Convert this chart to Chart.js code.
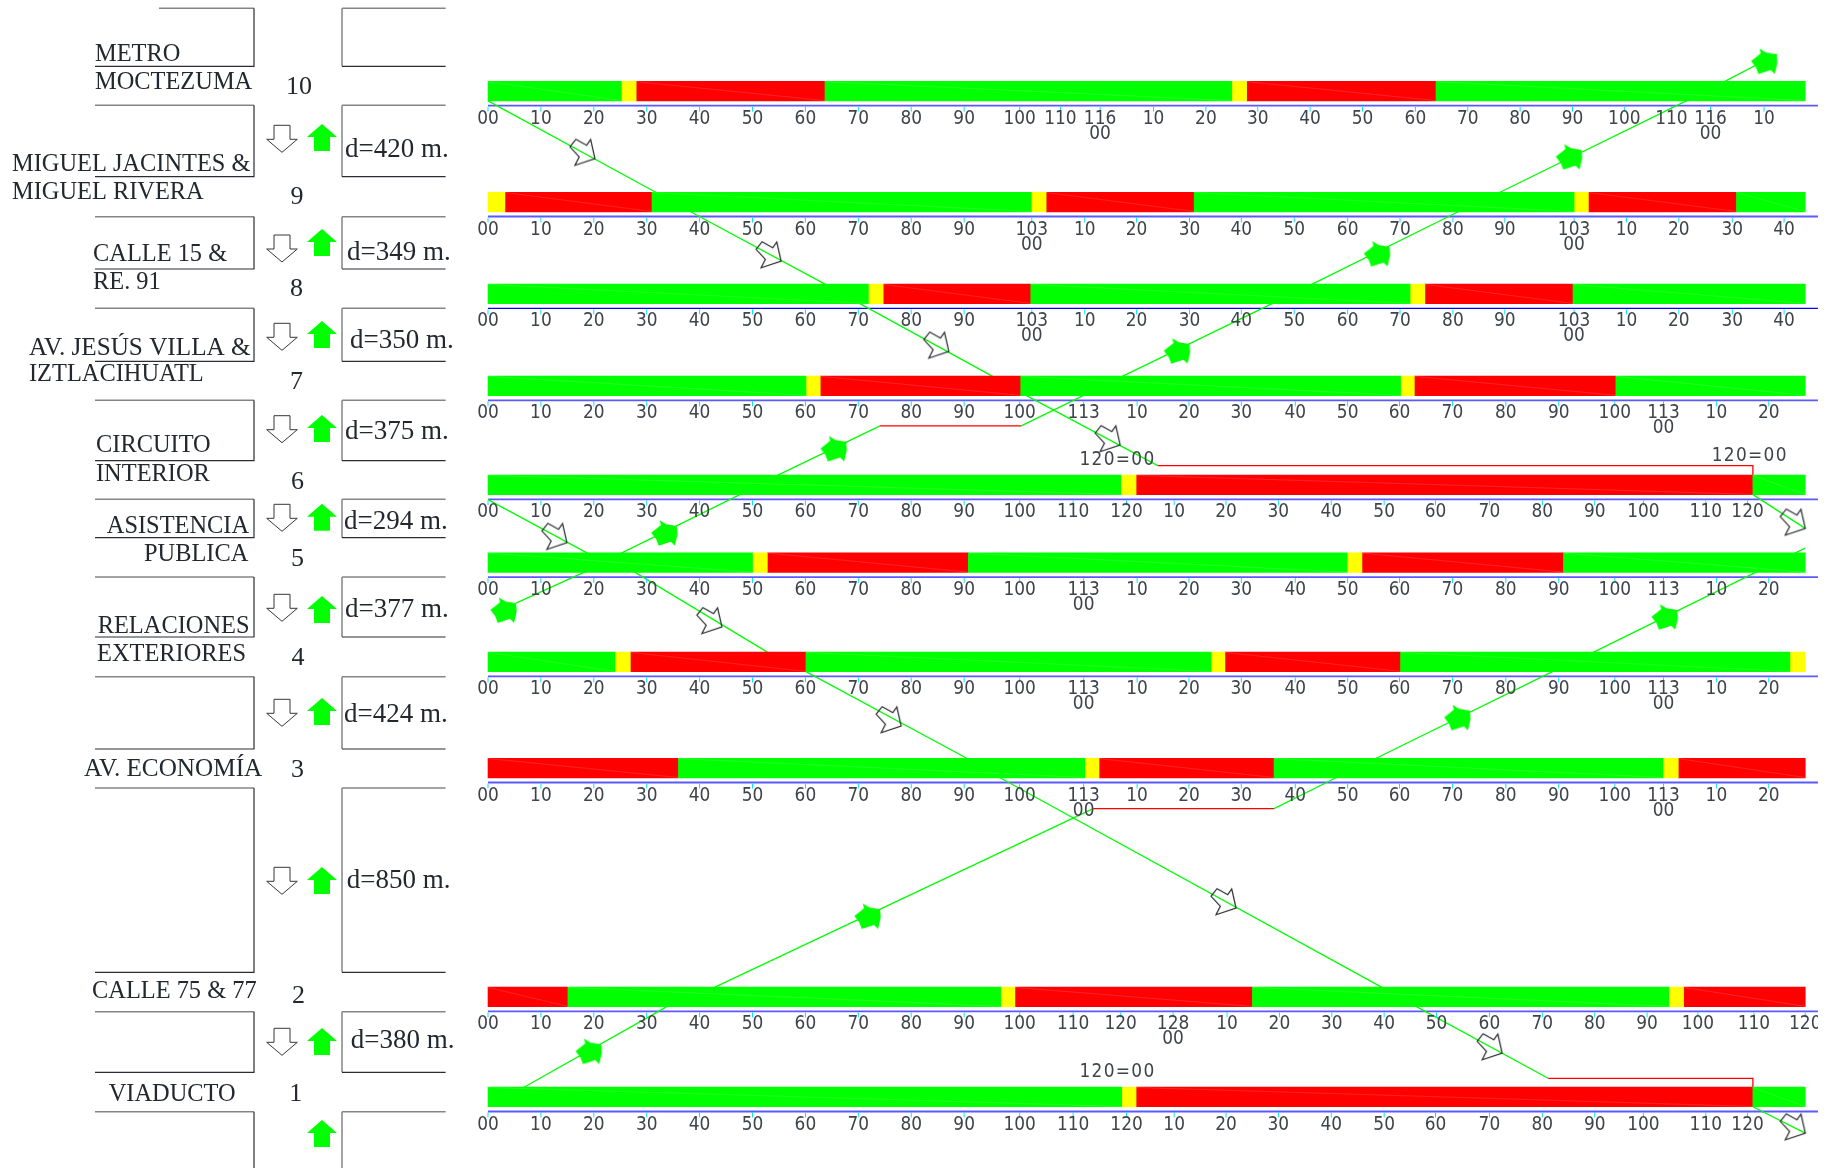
<!DOCTYPE html>
<html><head><meta charset="utf-8">
<style>html,body{margin:0;padding:0;background:#fff}canvas{display:block}</style>
<script src="https://cdn.jsdelivr.net/npm/chart.js@4"></script>
</head><body><canvas id="c" width="1837" height="1168"></canvas>
<script>
// ---------- data: seconds along x, metres along the corridor on y ----------
const stationNumbers=[1,2,3,4,5,6,7,8,9,10];
const stationPositions=[0,380,1249,1652,2029,2324,2700,3049,3398,3819];
const segmentDistances=['d=380 m.','d=850 m.','d=424 m.','d=377 m.','d=294 m.','d=375 m.','d=350 m.','d=349 m.','d=420 m.'];

// signal phases: colour sequence and the second at which each phase ends
const phases1=['G','Y','R','G'],            ends1=[119.8,122.5,239.1,249];
const phases2=['R','G','Y','R','G','Y','R'],ends2=[15.1,96.9,99.6,144.5,223.2,226,249];
const phases3=['R','G','Y','R','G','Y','R'],ends3=[36,112.8,115.5,148.6,222.1,225,249];
const phases4=['G','Y','R','G','Y','R','G','Y'],ends4=[24,26.9,60.1,136.7,139.3,172.5,246.1,249];
const phases5=['G','Y','R','G','Y','R','G'],ends5=[50,52.8,90.8,162.4,165.2,203.3,249];
const phases6=['G','Y','R','G'],            ends6=[119.6,122.5,239.1,249];
const phases7=['G','Y','R','G','Y','R','G'],ends7=[60.1,62.8,100.7,172.5,175.1,213.2,249];
const phases8=['G','Y','R','G','Y','R','G'],ends8=[71.9,74.7,102.6,174.3,177.1,205.1,249];
const phases9=['Y','R','G','Y','R','G','Y','R','G'],ends9=[3.2,31,102.7,105.5,133.5,205.3,208,236,249];
const phases10=['G','Y','R','G','Y','R','G'],ends10=[25.2,28,63.7,140.6,143.4,179.2,249];

// time scale tick labels
const tens=[0,10,20,30,40,50,60,70,80,90];
const tickTimes10=[...tens,100.5,108.2,115.7,125.8,135.7,145.5,155.4,165.3,175.3,185.2,195.1,205,214.8,223.7,231.1,241.2];
const tickTimes103=[...tens,102.8,112.8,122.6,132.6,142.4,152.4,162.5,172.4,182.4,192.2,205.3,215.2,225.1,235.2,245];
const tickTimes113=[...tens,100.5,112.6,122.7,132.5,142.4,152.6,162.5,172.3,182.3,192.4,202.4,213,222.2,232.2,242.1];
const tickTimes120=[...tens,100.5,110.6,120.7,129.7,139.5,149.4,159.4,169.4,179.1,189.3,199.3,209.2,218.4,230.2,238.1];
const tickTimes2=[...tens,100.5,110.6,119.6,129.5,139.7,149.6,159.5,169.4,179.3,189.3,199.3,209.2,219.1,228.7,239.3,249];
const tensText=['00','10','20','30','40','50','60','70','80','90'];
const upTo90=['10','20','30','40','50','60','70','80','90'];
const tickText10=[...tensText,'100','110','116\n00',...upTo90,'100','110','116\n00','10'];
const tickText9=[...tensText,'103\n00',...upTo90,'103\n00','10','20','30','40'];
const tickText8=tickText9;
const tickText7=[...tensText,'100','113',...upTo90,'100','113\n00','10','20'];
const tickText6=[...tensText,'100','110','120',...upTo90,'100','110','120'];
const tickText5=[...tensText,'100','113\n00',...upTo90,'100','113','10','20'];
const tickText4=[...tensText,'100','113\n00',...upTo90,'100','113\n00','10','20'];
const tickText3=tickText4;
const tickText2=[...tensText,'100','110','120','128\n00',...upTo90,'100','110','120'];
const tickText1=tickText6;
const cycleNotes=[['120=00',119,2427],['120=00',238.5,2440],['120=00',119,103]];

// progression lines [second, metre]
const downA=[[0,3782],[31.7,3435],[38.3,3361],[63.7,3086],[70.3,3012],[95.3,2737],[101.8,2663],[126.6,2397]];
const downB=[[239.1,2287],[249,2159]];
const downC=[[0,2268],[18.7,2066],[27.8,1992],[52.8,1689],[60.1,1615],[90.5,1286],[96.8,1212],[168.9,417],[175.5,343],[200.4,71]];
const downD=[[239.1,-37],[249,-137]];
const upA=[[6.8,37],[33.8,343],[42.9,417],[114.4,1095]];
const upB=[[148.6,1095],[160.3,1212],[167.9,1286],[201.2,1615],[209,1689],[239.6,1992],[249,2084]];
const upC=[[5.3,1875],[18.1,1992],[25.3,2066],[47.6,2287],[54.8,2361],[74.1,2548]];
const upD=[[100.8,2548],[112.5,2663],[120,2737],[148.2,3012],[155.8,3086],[183.4,3361],[191.3,3435],[226.5,3782],[233.8,3856],[243.6,3959]];
const redA=[[126.6,2397],[239.1,2397],[239.1,2361]];
const redB=[[200.4,71],[239.1,71],[239.1,37]];
const redC=[[114.4,1095],[148.6,1095]];
const redD=[[74.1,2548],[100.8,2548]];
const downMarkers=[[20.2,3563],[55.4,3174],[87.1,2831],[119.5,2476],[249,2159],[14.9,2105],[44.2,1785],[78.1,1409],[141.4,718],[191.7,167],[249,-137]];
const upMarkers=[[21.4,200],[74.1,713],[185.6,1467],[224.8,1849],[5.3,1875],[35.7,2168],[67.7,2488],[132.6,2859],[170.4,3228],[206.7,3596],[243.6,3959]];

// ---------- side panel text ----------
const streetLabels=[
 ['METRO',95,60.6],['MOCTEZUMA',95,88.6],['MIGUEL JACINTES &',12,170.6],['MIGUEL RIVERA',12,198.6],
 ['CALLE 15 &',93,261.3],['RE. 91',93,289.3],['IZTLACIHUATL',29,381.3],
 ['CIRCUITO',96,452.3],['INTERIOR',96,480.6],['ASISTENCIA',106.8,532.6],['PUBLICA',144,560.6],
 ['RELACIONES',97.7,632.6],['EXTERIORES',97,660.6],['CALLE 75 & 77',92,997.9],['VIADUCTO',108.7,1100.6]];
const wideLabels=[['AV. ECONOMÍA',84,775.6],['AV. JESÚS VILLA &',29,354.6]];
const numberSpots=[[295.8,1101],[298.5,1002.7],[297.4,776.7],[298,664.7],[297.4,565.7],[297.4,488.7],[296.5,388.7],[296.5,296],[297,204],[299,94]];
const distanceSpots=[[350.7,1048],[346.8,887.7],[344,721.7],[345,616.7],[344,528.7],[345,439.3],[350,348],[347,260],[345,156.7]];
const blocks=[[8.3,66.3],[105.3,176.7],[216.7,269],[308.3,361.3],[400.3,460.7],[499.3,537.7],[577,637],[676.7,749],[788,972.3],[1011.7,1072.3],[1111.7,1168]];
const downArrowTops=[125.3,235,323.3,415.7,504.3,594.3,699.3,867.3,1028.3];
const upArrowTops=[124,229,321,415,503.7,596,698,867,1028,1120];

// ---------- builders ----------
const C={G:'#00ff00',Y:'#ffff00',R:'#ff0000'};
const allPhases=[phases1,phases2,phases3,phases4,phases5,phases6,phases7,phases8,phases9,phases10];
const allEnds=[ends1,ends2,ends3,ends4,ends5,ends6,ends7,ends8,ends9,ends10];
const allTimes=[tickTimes120,tickTimes2,tickTimes113,tickTimes113,tickTimes113,tickTimes120,tickTimes113,tickTimes103,tickTimes103,tickTimes10];
const allTexts=[tickText1,tickText2,tickText3,tickText4,tickText5,tickText6,tickText7,tickText8,tickText9,tickText10];
const barData={G:[],Y:[],R:[]};
allPhases.forEach((ph,r)=>{let s=0;ph.forEach((k,i)=>{barData[k].push({x:[s,allEnds[r][i]],y:stationPositions[r]});s=allEnds[r][i];});});
const pts=a=>a.map(p=>({x:p[0],y:p[1]}));
const lineSet=(a,col,w)=>({type:'line',data:pts(a),borderColor:col,borderWidth:w||1.3,pointRadius:0,tension:0,fill:false,order:3,borderCapStyle:'butt'});
const barSet=k=>({type:'bar',indexAxis:'y',data:barData[k],backgroundColor:C[k],borderWidth:0,barThickness:19.6,grouped:false,order:2});

function marker(poly,fill,stroke){
  const c=document.createElement('canvas');c.width=c.height=64;
  const g=c.getContext('2d');g.translate(32,32);g.beginPath();
  poly.forEach((p,i)=>i?g.lineTo(p[0],p[1]):g.moveTo(p[0],p[1]));g.closePath();
  if(fill){g.fillStyle=fill;g.fill();}
  if(stroke){g.strokeStyle=stroke;g.lineWidth=1.2;g.stroke();}
  return c;
}
const upShape=[[0,0],[.7,8.3],[-2,19.7],[-6,15.7],[-18.3,19.7],[-20.7,13.3],[-25.7,6.7],[-19.3,1.7],[-16,-1],[-17.3,-5.7],[-10.7,-1.7]];
const downShape=[[0,0],[-4.3,-19],[-8.3,-13.3],[-19,-19.3],[-25,-11.7],[-15.7,-1.7],[-20,6.7]];
const markerSet=(a,img)=>({type:'scatter',data:pts(a),pointStyle:img,pointRadius:10,showLine:false,order:1,clip:false});

const blueOffset=55;
const blueLines=stationPositions.map((m,i)=>lineSet([[0,m-blueOffset],[251.4,m-blueOffset]],i===7?'#0000ff':'#5a5aff',i===7?1.4:1.8));

function tallText(g,s,x,y){g.save();g.translate(x,y);g.scale(1,1.14);g.fillText(s,0,0);g.restore();}

const overlay={id:'overlay',afterDraw(ch){
  const g=ch.ctx,X=ch.scales.x,Y=ch.scales.y;
  g.save();
  // faint diagonal streaks across each phase block
  allPhases.forEach((ph,r)=>{let s=0;const yc=Y.getPixelForValue(stationPositions[r]);
    ph.forEach((k,i)=>{const e=allEnds[r][i];g.strokeStyle='rgba(255,255,255,.2)';g.lineWidth=.7;g.beginPath();
      g.moveTo(X.getPixelForValue(s),yc-9.5);g.lineTo(X.getPixelForValue(e),yc+9.5);g.stroke();s=e;});});
  // time scales
  g.save();g.beginPath();g.rect(0,0,1818,1168);g.clip();
  g.textAlign='center';g.textBaseline='middle';g.font='17px "DejaVu Sans"';
  allTimes.forEach((ts,r)=>{const yb=Y.getPixelForValue(stationPositions[r]-blueOffset);
    ts.forEach((t,i)=>{const px=X.getPixelForValue(t);
      g.strokeStyle='#00e5ff';g.lineWidth=1;g.beginPath();g.moveTo(px,yb+1);g.lineTo(px,yb+6);g.stroke();
      g.fillStyle='#3f444a';
      allTexts[r][i].split('\n').forEach((s,j)=>tallText(g,s,px,yb+13+j*15));});});
  g.restore();
  g.textAlign='center';g.font='17px "DejaVu Sans"';g.fillStyle='#3f444a';g.textBaseline='middle';
  g.letterSpacing='1.3px';
  cycleNotes.forEach(n=>tallText(g,n[0],X.getPixelForValue(n[1]),Y.getPixelForValue(n[2])+2));
  g.letterSpacing='0px';
  // side blocks
  blocks.forEach((b,i)=>{const [t,bot]=b,lx=i===0?159:95;
    g.strokeStyle='#858585';g.lineWidth=1.5;
    g.beginPath();g.moveTo(lx,t);g.lineTo(254,t);g.stroke();
    g.beginPath();g.moveTo(342,t);g.lineTo(445.6,t);g.moveTo(342,t);g.lineTo(342,bot);g.stroke();
    g.strokeStyle='#2a2d33';g.lineWidth=1.2;
    g.beginPath();g.moveTo(254,t);g.lineTo(254,bot);if(bot<1168){g.lineTo(95,bot);g.moveTo(342,bot);g.lineTo(445.6,bot);}g.stroke();
  });
  // legend arrows
  downArrowTops.forEach(t=>{g.beginPath();g.moveTo(274,t);g.lineTo(290,t);g.lineTo(290,t+14);g.lineTo(297.3,t+14);g.lineTo(282,t+27);g.lineTo(266.7,t+14);g.lineTo(274,t+14);g.closePath();
    g.fillStyle='#fff';g.fill();g.strokeStyle='#33373d';g.lineWidth=1;g.stroke();});
  upArrowTops.forEach(t=>{g.beginPath();g.moveTo(322,t);g.lineTo(337,t+13);g.lineTo(330,t+13);g.lineTo(330,t+27);g.lineTo(314,t+27);g.lineTo(314,t+13);g.lineTo(307,t+13);g.closePath();
    g.fillStyle='#00ff00';g.fill();});
  // text
  g.fillStyle='#23272e';g.textBaseline='alphabetic';
  g.textAlign='left';g.font='24.4px "Liberation Serif"';
  streetLabels.forEach(l=>g.fillText(l[0],l[1],l[2]));
  g.font='25.2px "Liberation Serif"';wideLabels.forEach(l=>g.fillText(l[0],l[1],l[2]));
  g.font='27px "Liberation Serif"';
  segmentDistances.forEach((s,i)=>g.fillText(s,distanceSpots[i][0],distanceSpots[i][1]));
  g.textAlign='center';g.font='26px "Liberation Serif"';
  stationNumbers.forEach((n,i)=>g.fillText(String(n),numberSpots[i][0],numberSpots[i][1]));
  g.restore();
}};

new Chart(document.getElementById('c'),{
  type:'bar',
  data:{datasets:[
    barSet('G'),barSet('Y'),barSet('R'),
    lineSet(downA,'#00ff00'),lineSet(downB,'#00ff00'),lineSet(downC,'#00ff00'),lineSet(downD,'#00ff00'),
    lineSet(upA,'#00ff00'),lineSet(upB,'#00ff00'),lineSet(upC,'#00ff00'),lineSet(upD,'#00ff00'),
    lineSet(redA,'#ff0000'),lineSet(redB,'#ff0000'),lineSet(redC,'#ff0000'),lineSet(redD,'#ff0000'),
    ...blueLines,
    markerSet(upMarkers,marker(upShape,'#00ff00',null)),
    markerSet(downMarkers,marker(downShape,null,'#2a2d33'))
  ]},
  options:{
    responsive:false,animation:false,events:[],
    layout:{padding:0,autoPadding:false},
    plugins:{legend:{display:false},tooltip:{enabled:false},title:{display:false}},
    scales:{
      x:{type:'linear',min:-92.25,max:255,display:false,offset:false},
      y:{type:'linear',min:-269.6,max:4165,display:false,offset:false}
    }
  },
  plugins:[overlay]
});
</script></body></html>
